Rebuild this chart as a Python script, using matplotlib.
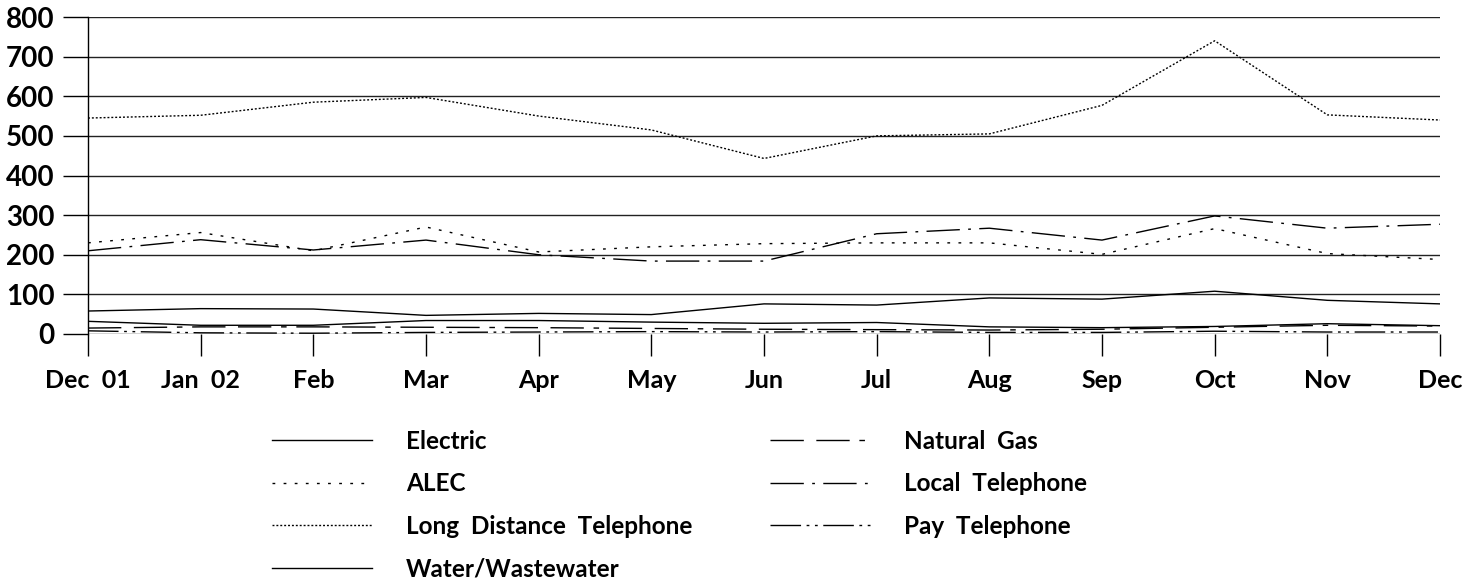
import matplotlib
matplotlib.use("Agg")
import matplotlib.pyplot as plt

# monthly values, Dec 2001 .. Dec 2002
months = ["Dec  01", "Jan  02", "Feb", "Mar", "Apr", "May", "Jun",
          "Jul", "Aug", "Sep", "Oct", "Nov", "Dec"]

electric = [58, 64, 63, 47, 52, 49, 76, 73, 91, 88, 108, 85, 76]
alec = [230, 256, 210, 270, 207, 220, 228, 230, 230, 201, 266, 203, 188]
long_distance = [545, 552, 585, 597, 550, 515, 443, 500, 505, 577, 740, 553, 540]
water = [32, 22, 22, 34, 34, 30, 27, 29, 18, 16, 19, 26, 21]
natural_gas = [15, 18, 18, 17, 16, 14, 12, 11, 10, 12, 17, 22, 20]
local_tel = [210, 238, 212, 237, 200, 184, 184, 253, 267, 237, 298, 267, 277]
pay_tel = [8, 3, 2, 4, 5, 6, 5, 6, 4, 4, 7, 5, 5]

series = [
    ("Electric", electric, "-"),
    ("ALEC", alec, (0, (2, 6))),
    ("Long  Distance  Telephone", long_distance, (0, (1.4, 1.4))),
    ("Water/Wastewater", water, "-"),
    ("Natural  Gas", natural_gas, (0, (24, 9, 24, 7, 4, 7))),
    ("Local  Telephone", local_tel, (0, (24, 6, 2, 6))),
    ("Pay  Telephone", pay_tel, (0, (22, 4, 2, 4, 2, 4))),
]

plt.rcParams["font.family"] = ["Lato", "DejaVu Sans"]

W, H = 1472, 584
fig = plt.figure(figsize=(W / 100, H / 100), dpi=100)
ax = fig.add_axes([88 / W, 1 - 334 / H, (1440 - 88) / W, (334 - 17) / H])

x = list(range(len(months)))
handles = []
for label, values, style in series:
    line, = ax.plot(x, values, color="black", linewidth=1.0, linestyle=style, label=label)
    handles.append(line)

ax.set_xlim(0, len(months) - 1)
ax.set_ylim(0, 800)
ax.set_yticks(range(0, 801, 100))
ax.set_xticks(x)
ax.set_xticklabels(months)
ax.grid(axis="y", color="#222222", linewidth=1.0)
ax.set_axisbelow(True)

for side in ["top", "right", "bottom"]:
    ax.spines[side].set_visible(False)
ax.spines["left"].set_linewidth(1.0)

ax.tick_params(axis="y", direction="out", length=18, width=1.0, pad=6,
               labelsize=20)
ax.tick_params(axis="x", direction="out", length=16, width=1.0, pad=9,
               labelsize=18)
for t in ax.get_yticklabels() + ax.get_xticklabels():
    t.set_fontweight("bold")

# two legend columns placed separately
leg_opts = dict(loc="upper left", frameon=False, fontsize=17.5, handlelength=4.1,
                handletextpad=1.4, labelspacing=0.8, borderpad=0, borderaxespad=0)
leg1 = fig.legend(handles=handles[:4], labels=[s[0] for s in series[:4]],
                  bbox_to_anchor=(272 / W, 1 - 430 / H), **leg_opts)
leg2 = fig.legend(handles=handles[4:], labels=[s[0] for s in series[4:]],
                  bbox_to_anchor=(770 / W, 1 - 430 / H), **leg_opts)
for leg in (leg1, leg2):
    for t in leg.get_texts():
        t.set_fontweight("bold")

fig.savefig("out.png", dpi=100)
